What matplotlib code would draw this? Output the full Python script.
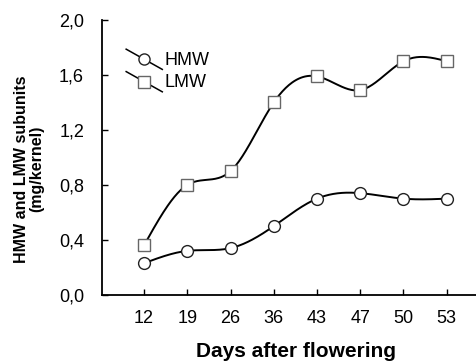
import numpy as np
import matplotlib
matplotlib.use('Agg')
import matplotlib.pyplot as plt
from matplotlib.ticker import FuncFormatter
from matplotlib.legend_handler import HandlerBase
from matplotlib.lines import Line2D

plt.rcParams['font.family'] = ['Liberation Sans', 'DejaVu Sans']

days = ['12', '19', '26', '36', '43', '47', '50', '53']
hmw = [0.23, 0.32, 0.34, 0.50, 0.70, 0.74, 0.70, 0.70]
lmw = [0.36, 0.80, 0.90, 1.40, 1.59, 1.49, 1.70, 1.70]


def spline(y, n=40):
    # natural cubic spline over the category positions
    y = np.asarray(y, float)
    k = len(y)
    A = np.zeros((k, k))
    b = np.zeros(k)
    A[0, 0] = A[-1, -1] = 1
    for i in range(1, k - 1):
        A[i, i - 1], A[i, i], A[i, i + 1] = 1, 4, 1
        b[i] = 6 * (y[i + 1] - 2 * y[i] + y[i - 1])
    m = np.linalg.solve(A, b)
    xs, ys = [], []
    for i in range(k - 1):
        t = np.linspace(0, 1, n, endpoint=False)
        a = y[i]
        c1 = y[i + 1] - y[i] - (2 * m[i] + m[i + 1]) / 6
        c2 = m[i] / 2
        c3 = (m[i + 1] - m[i]) / 6
        xs.append(i + t)
        ys.append(a + c1 * t + c2 * t**2 + c3 * t**3)
    xs.append([k - 1])
    ys.append([y[-1]])
    return np.concatenate(xs), np.concatenate(ys)


class DiagHandler(HandlerBase):
    # slanted legend key, like the original figure
    def create_artists(self, legend, h, xd, yd, w, ht, fs, trans):
        x0, x1 = -xd, w - xd
        ln = Line2D([x0, x1], [ht * 1.25 - yd, -ht * 0.35 - yd], color='black',
                    lw=1.1, transform=trans)
        mk = Line2D([x0 + (x1 - x0) * 0.5], [ht * 0.45 - yd], linestyle='none',
                    marker=h.get_marker(), ms=h.get_markersize(), mfc='white',
                    mec=h.get_markeredgecolor(), mew=1.0, transform=trans)
        return [ln, mk]


x = np.arange(len(days))

fig = plt.figure(figsize=(4.77, 3.64), dpi=100)
ax = fig.add_axes([0.214, 0.19, 0.786, 0.755])

handles = []
for vals, mk, lab in [(hmw, 'o', 'HMW'), (lmw, 's', 'LMW')]:
    ec = '#666666' if mk == 's' else '#222222'
    sx, sy = spline(vals)
    ax.plot(sx, sy, color='black', lw=1.4, zorder=2)
    ax.plot(x, vals, linestyle='none', marker=mk, ms=8.5, mfc='white',
            mec=ec, mew=1.0, zorder=3)
    handles.append(Line2D([], [], color='black', marker=mk, ms=8, mfc='white',
                          mec=ec, label=lab))

ax.set_xlim(-0.97, 7.7)
ax.set_ylim(0, 2.0)
ax.set_xticks(x)
ax.set_xticklabels(days)
ax.set_yticks([0, 0.4, 0.8, 1.2, 1.6, 2.0])
ax.yaxis.set_major_formatter(FuncFormatter(lambda v, p: f'{v:.1f}'.replace('.', ',')))
ax.tick_params(direction='in', length=4, width=1, labelsize=13)
ax.tick_params(axis='y', pad=13)
ax.tick_params(axis='x', pad=11)
for s in ['top', 'right']:
    ax.spines[s].set_visible(False)
for s in ['left', 'bottom']:
    ax.spines[s].set_linewidth(1.3)

ax.set_xlabel('Days after flowering', fontsize=15, fontweight='bold')
ax.xaxis.set_label_coords(0.517, -0.17)
ax.set_ylabel('HMW and LMW subunits\n(mg/kernel)', fontsize=11.5, fontweight='bold',
              linespacing=1.0)
ax.yaxis.set_label_coords(-0.155, 0.458)

ax.legend(handles=handles, handler_map={Line2D: DiagHandler()},
          loc='upper left', bbox_to_anchor=(0.045, 0.91), frameon=False,
          fontsize=13, handlelength=2.0, handletextpad=0.15, labelspacing=0.3,
          borderaxespad=0)

fig.savefig('out.png', dpi=100)
